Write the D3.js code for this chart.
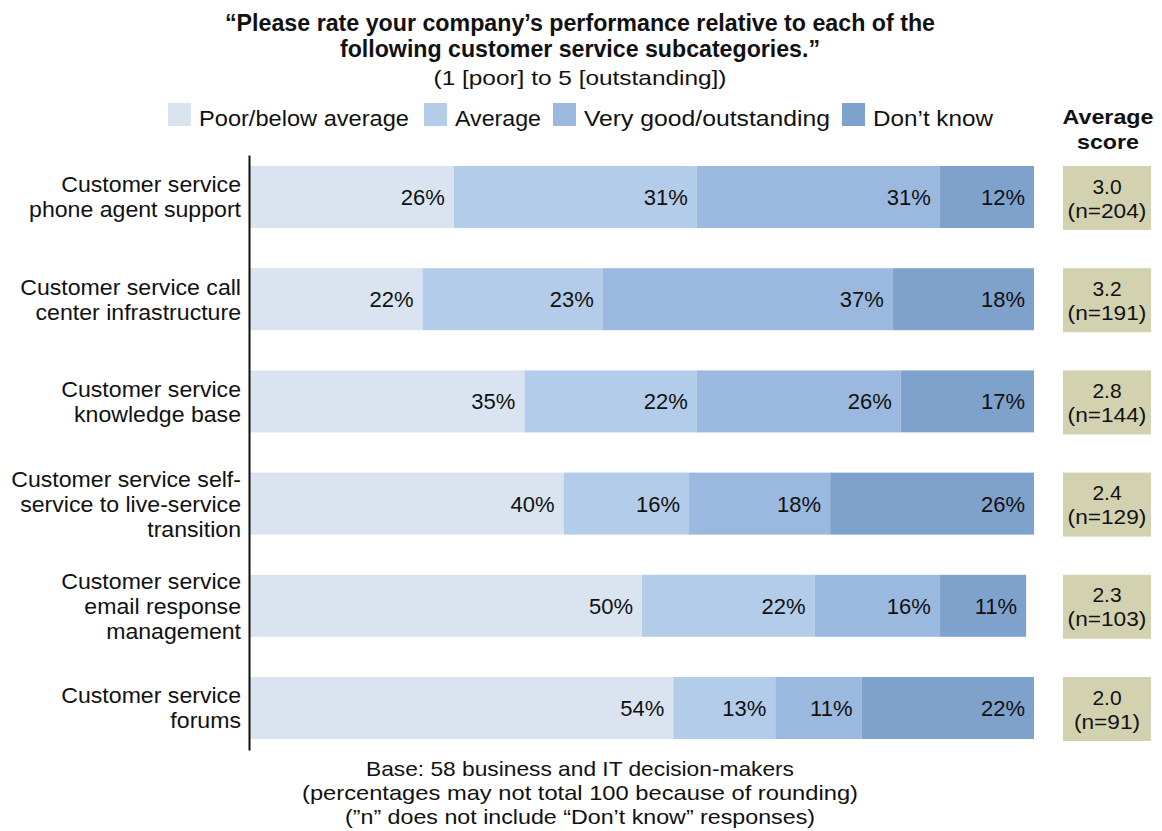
<!DOCTYPE html>
<html><head><meta charset="utf-8">
<script src="https://cdn.jsdelivr.net/npm/d3@7"></script>
<style>
body{margin:0;background:#fff}
svg{display:block}
text{font-family:'Liberation Sans',Arial,sans-serif;fill:#111}
</style>
</head><body>
<svg id="chart" width="1162" height="831"></svg>
<script>
const titleLines = ["\u201cPlease rate your company\u2019s performance relative to each of the", "following customer service subcategories.\u201d"];
const subtitle = "(1 [poor] to 5 [outstanding])";
const seriesNames = ["Poor/below average", "Average", "Very good/outstanding", "Don\u2019t know"];
const seriesColors = ["#d9e4f0", "#b3ccea", "#9bb8de", "#7fa2cd"];
const categories = [
  ["Customer service", "phone agent support"],
  ["Customer service call", "center infrastructure"],
  ["Customer service", "knowledge base"],
  ["Customer service self-", "service to live-service", "transition"],
  ["Customer service", "email response", "management"],
  ["Customer service", "forums"]
];
const poor = [26, 22, 35, 40, 50, 54];
const average = [31, 23, 22, 16, 22, 13];
const veryGood = [31, 37, 26, 18, 16, 11];
const dontKnow = [12, 18, 17, 26, 11, 22];
const scores = ["3.0", "3.2", "2.8", "2.4", "2.3", "2.0"];
const nCounts = [204, 191, 144, 129, 103, 91];
const footnotes = ["Base: 58 business and IT decision-makers", "(percentages may not total 100 because of rounding)", "(\u201dn\u201d does not include \u201cDon\u2019t know\u201d responses)"];

const svg = d3.select("#chart");
const catKeys = categories.map(c => c.join(" "));
const seriesData = [poor, average, veryGood, dontKnow];

const x = d3.scaleLinear().domain([0, 100]).range([250, 1034]);
const y = d3.scaleBand().domain(catKeys).range([155, 750]).paddingInner(0.3934).paddingOuter(0.1076);

const cx = 580;
function fitText(sel, w) {
  const n = sel.node().getComputedTextLength();
  if (Math.abs(n - w) > 2) sel.attr("textLength", w).attr("lengthAdjust", "spacingAndGlyphs");
}

// title
const titleW = [710, 480];
titleLines.forEach((ln, i) => {
  svg.append("text").attr("x", cx).attr("y", 31 + i * 26).attr("text-anchor","middle")
    .attr("font-size", 23).attr("font-weight","bold").text(ln).call(fitText, titleW[i]);
});
svg.append("text").attr("x", cx).attr("y", 85).attr("text-anchor","middle")
  .attr("font-size", 21).text(subtitle).call(fitText, 293);

// legend
const legendX = [168, 424, 553, 842];
const legendW = [210, 86, 246, 120];
const lg = svg.append("g");
seriesNames.forEach((name, i) => {
  lg.append("rect").attr("x", legendX[i]).attr("y", 103).attr("width", 23).attr("height", 23).attr("fill", seriesColors[i]);
  lg.append("text").attr("x", legendX[i] + 31).attr("y", 126).attr("font-size", 22).text(name).call(fitText, legendW[i]);
});

// Average score header
svg.append("text").attr("x", 1108).attr("y", 124).attr("text-anchor","middle").attr("font-size", 21).attr("font-weight","bold").text("Average").call(fitText, 91);
svg.append("text").attr("x", 1108).attr("y", 149).attr("text-anchor","middle").attr("font-size", 21).attr("font-weight","bold").text("score").call(fitText, 62);

// stacked bars
const stackInput = catKeys.map((k, i) => {
  const o = {key: k};
  seriesNames.forEach((s, j) => o[s] = seriesData[j][i]);
  return o;
});
const stacked = d3.stack().keys(seriesNames)(stackInput);

const layers = svg.append("g").selectAll("g").data(stacked).join("g").attr("fill", (d, i) => seriesColors[i]);
layers.selectAll("rect").data(d => d).join("rect")
  .attr("x", d => x(d[0])).attr("y", d => y(d.data.key))
  .attr("width", d => x(d[1]) - x(d[0])).attr("height", y.bandwidth());

const labels = svg.append("g").selectAll("g").data(stacked).join("g");
labels.selectAll("text").data(d => d).join("text")
  .attr("x", d => x(d[1]) - 9).attr("y", d => y(d.data.key) + y.bandwidth() / 2)
  .attr("dy", "0.36em").attr("text-anchor", "end").attr("font-size", 22)
  .text(d => (d[1] - d[0]) + "%");

// axis line
svg.append("g").attr("transform", "translate(249,0)")
  .call(d3.axisLeft(y).tickSize(0).tickFormat(""))
  .call(g => g.select(".domain").attr("stroke", "#111").attr("stroke-width", 2));

// category labels
const catG = svg.append("g");
categories.forEach((lines, i) => {
  const c = y(catKeys[i]) + y.bandwidth() / 2;
  const lh = 25;
  lines.forEach((ln, j) => {
    const t = catG.append("text").attr("text-anchor", "end").attr("font-size", 22)
      .attr("x", 241).attr("y", c + (j - (lines.length - 1) / 2) * lh).attr("dy", "0.36em").text(ln);
    const n = t.node().getComputedTextLength();
    t.attr("textLength", n * 1.05).attr("lengthAdjust", "spacingAndGlyphs");
  });
});

// score boxes
const sg = svg.append("g");
catKeys.forEach((k, i) => {
  const top = y(k);
  sg.append("rect").attr("x", 1063).attr("y", top).attr("width", 88).attr("height", y.bandwidth() + 2).attr("fill", "#d3d2b0");
  const c = top + (y.bandwidth() + 2) / 2;
  sg.append("text").attr("x", 1107).attr("y", c - 12).attr("dy", "0.36em").attr("text-anchor","middle").attr("font-size", 21).text(scores[i]);
  const nt = sg.append("text").attr("x", 1107).attr("y", c + 12).attr("dy", "0.36em").attr("text-anchor","middle").attr("font-size", 21).text("(n=" + nCounts[i] + ")");
  const n = nt.node().getComputedTextLength();
  nt.attr("textLength", n * 1.08).attr("lengthAdjust", "spacingAndGlyphs");
});

// footnotes
const footW = [428, 556, 470];
footnotes.forEach((f, i) => {
  svg.append("text").attr("x", cx).attr("y", 768 + i * 24).attr("dy", "0.36em").attr("text-anchor","middle").attr("font-size", 21).text(f).call(fitText, footW[i]);
});
</script>
</body></html>
